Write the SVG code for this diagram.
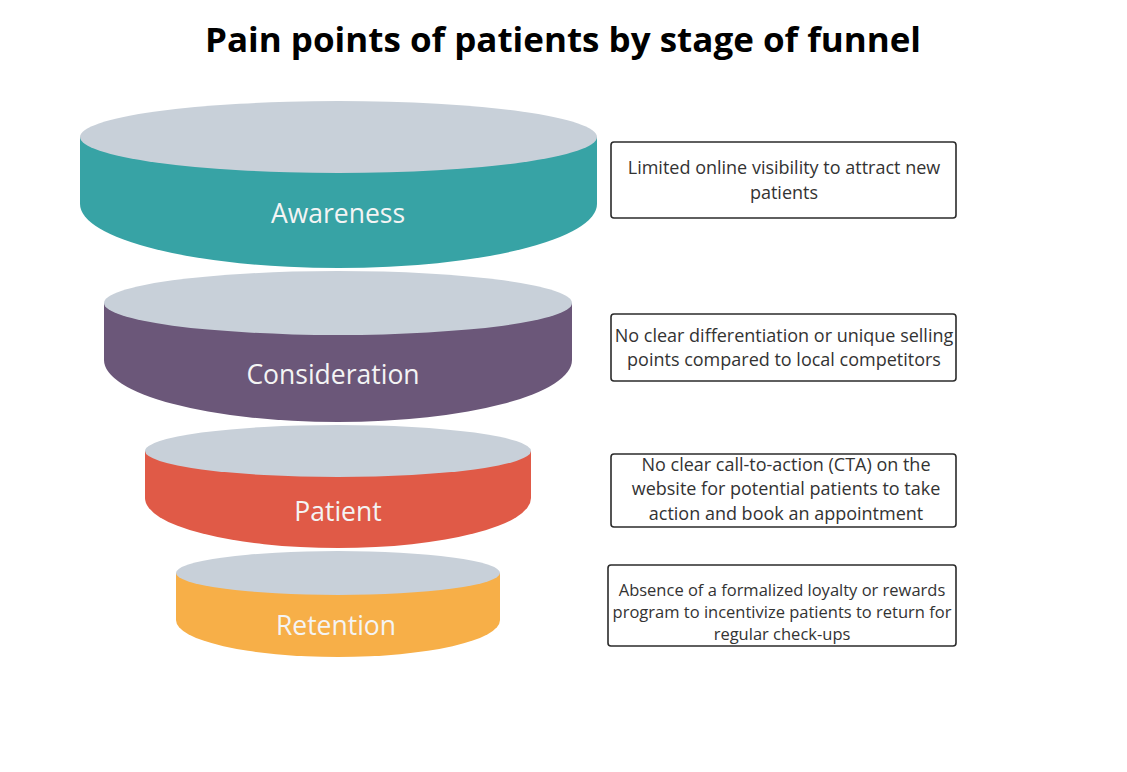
<svg xmlns="http://www.w3.org/2000/svg" width="1127" height="772" viewBox="0 0 1127 772">
<style>
.top{fill:#C8D0D9}
.lbl{font-family:"Open Sans","Liberation Sans",sans-serif;font-size:26.5px;fill:#F4F4F4;text-anchor:middle}
.box{fill:#FFFFFF;stroke:#2B2B2B;stroke-width:1.6}
.bt{font-family:"Open Sans","Liberation Sans",sans-serif;font-size:18px;fill:#333333;text-anchor:middle}
.bs{font-size:16.5px}
.title{font-family:"Open Sans","Liberation Sans",sans-serif;font-size:34px;font-weight:bold;fill:#000000;text-anchor:middle}
</style>
<rect width="1127" height="772" fill="#FFFFFF"/>
<text class="title" x="563" y="52" textLength="716" lengthAdjust="spacingAndGlyphs">Pain points of patients by stage of funnel</text>

<g id="awareness">
<path d="M80,137 L80,204 A258.5 64 0 0 0 597,204 L597,137 Z" fill="#37A3A5"/>
<ellipse class="top" cx="338.5" cy="137" rx="258.5" ry="36"/>
<text class="lbl" x="338" y="223">Awareness</text>
</g>

<g id="consideration">
<path d="M104,303 L104,360 A234 62 0 0 0 572,360 L572,303 Z" fill="#6B5779"/>
<ellipse class="top" cx="338" cy="303" rx="234" ry="32"/>
<text class="lbl" x="333" y="384">Consideration</text>
</g>

<g id="patient">
<path d="M145,451 L145,498 A193 50 0 0 0 531,498 L531,451 Z" fill="#E05A47"/>
<ellipse class="top" cx="338" cy="451" rx="193" ry="26"/>
<text class="lbl" x="338" y="521">Patient</text>
</g>

<g id="retention">
<path d="M176,573 L176,620 A162 37 0 0 0 500,620 L500,573 Z" fill="#F7AF48"/>
<ellipse class="top" cx="338" cy="573" rx="162" ry="22"/>
<text class="lbl" x="336" y="635">Retention</text>
</g>

<g id="box1">
<rect class="box" x="611" y="142" width="345" height="76" rx="3"/>
<text class="bt" x="784" y="174">Limited online visibility to attract new</text>
<text class="bt" x="784" y="199">patients</text>
</g>

<g id="box2">
<rect class="box" x="611" y="314" width="345" height="67" rx="3"/>
<text class="bt" x="784" y="342">No clear differentiation or unique selling</text>
<text class="bt" x="784" y="366">points compared to local competitors</text>
</g>

<g id="box3">
<rect class="box" x="611" y="454" width="345" height="73" rx="3"/>
<text class="bt" x="786" y="471">No clear call-to-action (CTA) on the</text>
<text class="bt" x="786" y="495">website for potential patients to take</text>
<text class="bt" x="786" y="520">action and book an appointment</text>
</g>

<g id="box4">
<rect class="box" x="608" y="565" width="348" height="81" rx="3"/>
<text class="bt bs" x="782" y="596">Absence of a formalized loyalty or rewards</text>
<text class="bt bs" x="782" y="618">program to incentivize patients to return for</text>
<text class="bt bs" x="782" y="640">regular check-ups</text>
</g>

<g id="connectors"></g>
</svg>
